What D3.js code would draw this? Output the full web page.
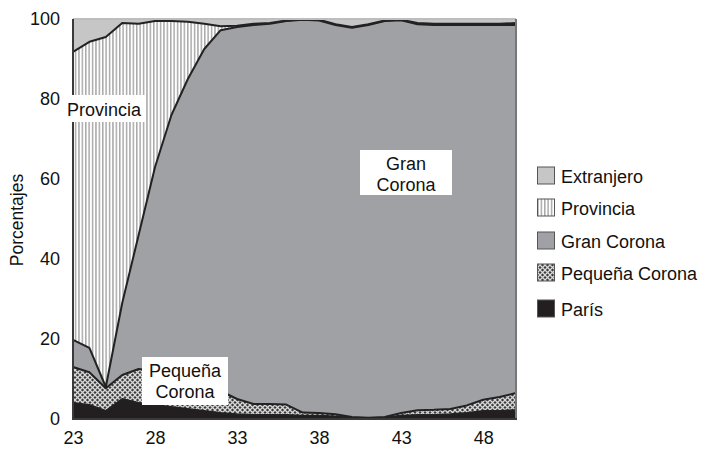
<!DOCTYPE html>
<html><head><meta charset="utf-8">
<script src="https://cdn.jsdelivr.net/npm/d3@7"></script>
<style>
body{margin:0;background:#fff;}
svg{display:block;font-family:"Liberation Sans",Arial,sans-serif;}
</style></head>
<body><svg id="c" width="709" height="452"></svg>
<script>
const years = [23,24,25,26,27,28,29,30,31,32,33,34,35,36,37,38,39,40,41,42,43,44,45,46,47,48,49,50];
const paris =       [4,3.5,2,5,4,3.5,3,2.5,2,1.5,1.2,1,1,1,0.8,0.8,0.6,0.3,0.2,0.3,0.8,1,1,1.2,1.5,2,2,2.2];
const pequena =     [9,8.2,5.7,6,8.5,8.5,8,7.5,6.5,5.5,3.8,2.75,2.75,2.6,0.8,0.7,0.6,0.2,0.1,0.2,0.7,1.2,1.3,1.3,1.9,2.8,3.5,4.3];
const granCorona =  [6.8,6.1,0.3,18,33.5,51,65,75,84,90.2,93,94.75,95.05,95.9,98.2,98.1,97.3,97.3,98.2,99,98.2,96.5,96.2,96,95.1,93.7,93,92];
const provincia =   [72,76.5,87.5,70,52.8,36.5,23.5,14.3,6.3,1,0.3,0.3,0.2,0.1,0.1,0.2,0.2,0.2,0.2,0.1,0.1,0.3,0.3,0.3,0.3,0.3,0.3,0.5];
const extranjero =  [8.2,5.7,4.5,1,1.2,0.5,0.5,0.7,1.2,1.8,1.7,1.2,1,0.4,0.1,0.2,1.3,2,1.3,0.4,0.2,1,1.2,1.2,1.2,1.2,1.2,1];
const seriesNames = ["París","Pequeña Corona","Gran Corona","Provincia","Extranjero"];
const legendOrder = ["Extranjero","Provincia","Gran Corona","Pequeña Corona","París"];
const yTicks = [0,20,40,60,80,100];
const xTicks = [23,28,33,38,43,48];

const FS = 18;
const svg = d3.select("#c");
const defs = svg.append("defs");
// Provincia stripes
const ps = defs.append("pattern").attr("id","pStripe").attr("patternUnits","userSpaceOnUse")
  .attr("width",3.4).attr("height",10);
ps.append("rect").attr("width",3.4).attr("height",10).attr("fill","#ffffff");
ps.append("rect").attr("x",0).attr("width",1.5).attr("height",10).attr("fill","#a9a9a9");
// Pequeña Corona crosshatch
const pc = defs.append("pattern").attr("id","pCross").attr("patternUnits","userSpaceOnUse")
  .attr("width",5).attr("height",5);
pc.append("rect").attr("width",5).attr("height",5).attr("fill","#3a3a3a");
pc.append("path").attr("d","M0,0L5,5M5,0L0,5").attr("stroke","#d8d8d8").attr("stroke-width",1.3);

const fills = {"París":"#231f20","Pequeña Corona":"url(#pCross)","Gran Corona":"#a0a1a5","Provincia":"url(#pStripe)","Extranjero":"#c6c6c6"};

const table = years.map((yr,i)=>({year:yr,"París":paris[i],"Pequeña Corona":pequena[i],"Gran Corona":granCorona[i],"Provincia":provincia[i],"Extranjero":extranjero[i]}));
const stack = d3.stack().keys(seriesNames)(table);

const x = d3.scaleLinear().domain([23,50]).range([73,516]);
const y = d3.scaleLinear().domain([0,100]).range([419,19]);

const area = d3.area().x(d=>x(d.data.year)).y0(d=>y(d[0])).y1(d=>y(d[1]));
const line = d3.line().x(d=>x(d.data.year)).y(d=>y(Math.min(100,d[1])));

svg.append("g").selectAll("path").data(stack).join("path")
  .attr("d",area).attr("fill",d=>fills[d.key]);
svg.append("g").selectAll("path").data(stack.slice(0,4)).join("path")
  .attr("d",line).attr("fill","none").attr("stroke","#222").attr("stroke-width",2).attr("stroke-linejoin","round");

// frame
svg.append("line").attr("x1",73).attr("x2",516).attr("y1",19).attr("y2",19).attr("stroke","#bdbdbd").attr("stroke-width",2);
svg.append("line").attr("x1",516).attr("x2",516).attr("y1",19).attr("y2",419).attr("stroke","#777").attr("stroke-width",2);
svg.append("line").attr("x1",73).attr("x2",73).attr("y1",19).attr("y2",420).attr("stroke","#3a3a3a").attr("stroke-width",2);
svg.append("line").attr("x1",72).attr("x2",517).attr("y1",419).attr("y2",419).attr("stroke","#3a3a3a").attr("stroke-width",2);

// axes
const ya = svg.append("g").attr("transform","translate(73,0)")
  .call(d3.axisLeft(y).tickValues(yTicks).tickSize(0).tickPadding(13));
ya.select(".domain").remove();
ya.selectAll("text").attr("font-size",FS).attr("fill","#111").attr("font-family","'Liberation Sans',Arial,sans-serif");
const xa = svg.append("g").attr("transform","translate(0,419)")
  .call(d3.axisBottom(x).tickValues(xTicks).tickSize(0).tickPadding(12));
xa.select(".domain").remove();
xa.selectAll("text").attr("font-size",FS).attr("fill","#111").attr("font-family","'Liberation Sans',Arial,sans-serif");

svg.append("text").attr("transform","translate(23,220) rotate(-90)").attr("text-anchor","middle")
  .attr("font-size",17.5).attr("fill","#111").text("Porcentajes");

// in-chart labels
function label(lines, tx, baseline, bx, by, bw, bh, anchor){
  svg.append("rect").attr("x",bx).attr("y",by).attr("width",bw).attr("height",bh).attr("fill","#fff");
  lines.forEach((t,i)=>{
    svg.append("text").attr("x",tx).attr("y",baseline+i*20.5).attr("text-anchor",anchor)
      .attr("font-size",FS).attr("fill","#111").text(t);
  });
}
label(["Provincia"],67,116,63,95,82,27,"start");
label(["Gran","Corona"],406,170,360,150,92,45,"middle");
label(["Pequeña","Corona"],185,377,142,357,86,48,"middle");

// legend
const lg = svg.append("g");
const ly = [176,208,241,273,309];
legendOrder.forEach((k,i)=>{
  lg.append("rect").attr("x",537.5).attr("y",ly[i]-9).attr("width",17).attr("height",17)
    .attr("fill",fills[k]).attr("stroke","#555").attr("stroke-width",1);
  lg.append("text").attr("x",561).attr("y",ly[i]+6.5).attr("font-size",FS).attr("fill","#111").text(k);
});
</script></body></html>
